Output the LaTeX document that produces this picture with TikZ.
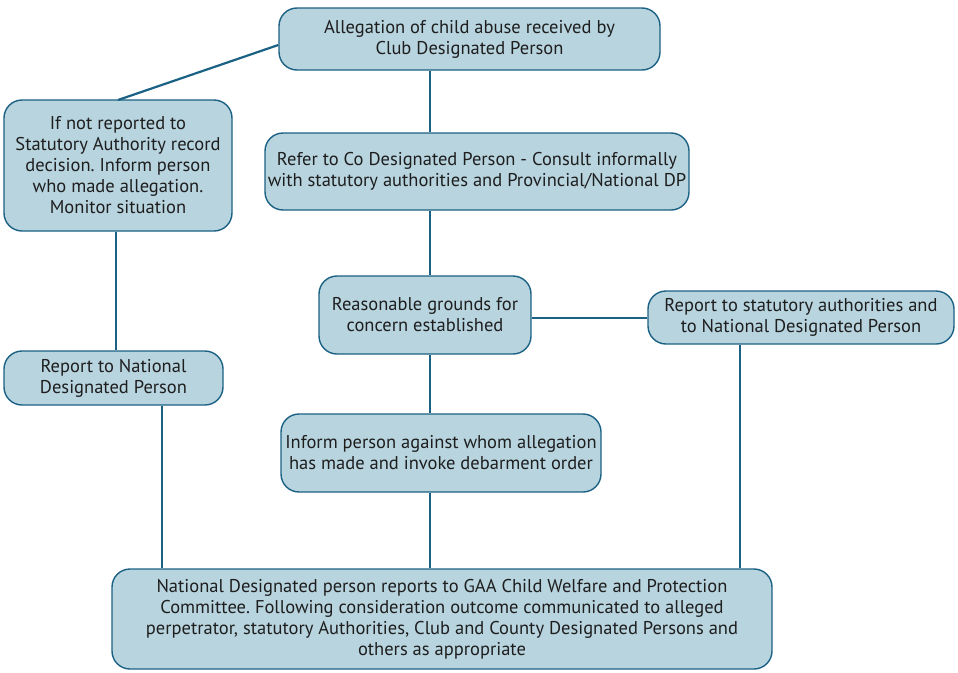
\documentclass[tikz,border=0pt]{standalone}
\usepackage{fontspec}
\setmainfont{PT Sans}
\frenchspacing
\definecolor{boxfill}{HTML}{B8D4DF}
\definecolor{boxline}{HTML}{1B6184}
\definecolor{txt}{HTML}{1E1E1E}
\begin{document}
\begin{tikzpicture}[x=1pt,y=-1pt,
  flowbox/.style={draw=boxline,line width=1.4pt,fill=boxfill,rounded corners=18pt,
    align=center,text=txt,font=\fontsize{18.5}{21}\selectfont,inner sep=0pt,anchor=center},
  link/.style={draw=boxline,line width=2.2pt}]
\useasboundingbox (0,0) rectangle (958,672);
\node[flowbox,minimum width=381pt,minimum height=62pt] (top) at (469.5,39)
  {Allegation of child abuse received by\\Club Designated Person};
\node[flowbox,minimum width=228pt,minimum height=131pt] (left) at (118,165.5)
  {If not reported to\\Statutory Authority record\\decision. Inform person\\who made allegation.\\Monitor situation};
\node[flowbox,minimum width=424pt,minimum height=77pt] (refer) at (477,171.5)
  {Refer to Co Designated Person - Consult informally\\with statutory authorities and Provincial/National DP};
\node[flowbox,minimum width=212pt,minimum height=78pt] (reason) at (425,315)
  {Reasonable grounds for\\concern established};
\node[flowbox,minimum width=306pt,minimum height=53pt] (stat) at (801,317.5)
  {Report to statutory authorities and\\to National Designated Person};
\node[flowbox,minimum width=219pt,minimum height=54pt] (natl) at (113.5,378)
  {Report to National\\Designated Person};
\node[flowbox,minimum width=320pt,minimum height=78pt] (inform) at (441,453)
  {Inform person against whom allegation\\has made and invoke debarment order};
\node[flowbox,minimum width=660pt,minimum height=100pt] (bottom) at (442,619)
  {National Designated person reports to GAA Child Welfare and Protection\\Committee. Following consideration outcome communicated to alleged\\perpetrator, statutory Authorities, Club and County Designated Persons and\\others as appropriate};
\coordinate (tl) at (279,45);
\coordinate (lt) at (118,100);
\draw[link] (top.west |- tl) -- (lt);
\draw[link] (top.south -| 430,0) -- (refer.north -| 430,0);
\draw[link] (refer.south -| 430,0) -- (reason.north -| 430,0);
\draw[link] (reason.south -| 430,0) -- (inform.north -| 430,0);
\draw[link] (inform.south -| 430,0) -- (bottom.north -| 430,0);
\draw[link] (reason.east |- 0,318) -- (stat.west |- 0,318);
\draw[link] (left.south -| 116,0) -- (natl.north -| 116,0);
\draw[link] (natl.south -| 162,0) -- (bottom.north -| 162,0);
\draw[link] (stat.south -| 740,0) -- (bottom.north -| 740,0);
\end{tikzpicture}
\end{document}
